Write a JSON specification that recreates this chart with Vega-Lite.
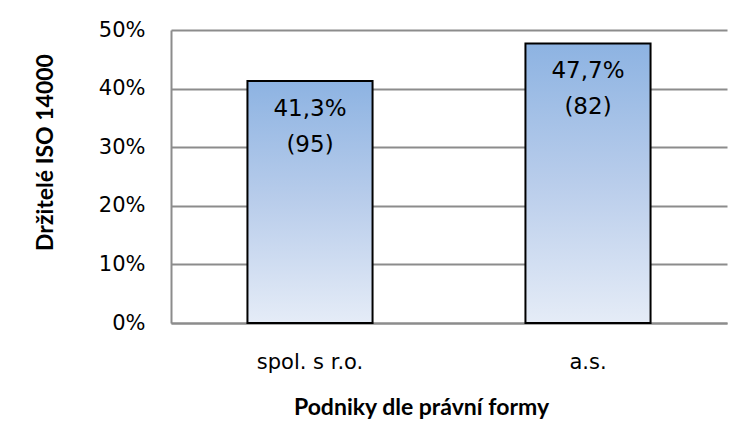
{
  "$schema": "https://vega.github.io/schema/vega-lite/v6.json",
  "autosize": "none",
  "width": 556,
  "height": 293,
  "padding": {"left": 171, "top": 30, "right": 11, "bottom": 109},
  "background": "white",
  "data": {
    "values": [
      {"forma": "spol. s r.o.", "podil": 0.413, "pocet": 95, "procento": "41,3%", "n": "(95)"},
      {"forma": "a.s.", "podil": 0.477, "pocet": 82, "procento": "47,7%", "n": "(82)"}
    ]
  },
  "encoding": {
    "x": {
      "field": "forma",
      "type": "nominal",
      "sort": null,
      "scale": {"paddingInner": 0.55, "paddingOuter": 0.275},
      "axis": {
        "title": "Podniky dle právní formy",
        "labelAngle": 0,
        "labelFont": "DejaVu Sans",
        "labelFontSize": 21,
        "labelColor": "#000000",
        "labelPadding": 28,
        "ticks": false,
        "domainColor": "#8c8c8c",
        "domainWidth": 2,
        "titleFont": "Lato",
        "titleFontWeight": "bold",
        "titleFontSize": 23,
        "titleColor": "#000000",
        "titleX": 250,
        "titleY": 84,
        "titleBaseline": "middle",
        "titleAnchor": null
      }
    },
    "y": {
      "field": "podil",
      "type": "quantitative",
      "scale": {"domain": [0, 0.5], "nice": false},
      "axis": {
        "title": "Držitelé ISO 14000",
        "format": ".0%",
        "values": [0, 0.1, 0.2, 0.3, 0.4, 0.5],
        "labelFont": "DejaVu Sans",
        "labelFontSize": 21,
        "labelColor": "#000000",
        "labelPadding": 26,
        "ticks": false,
        "domainColor": "#8c8c8c",
        "domainWidth": 2,
        "grid": true,
        "gridColor": "#8c8c8c",
        "gridWidth": 2,
        "titleFont": "Lato",
        "titleFontWeight": "bold",
        "titleFontSize": 23,
        "titleColor": "#000000",
        "titleX": -126,
        "titleY": 122,
        "titleAngle": 270,
        "titleAlign": "center",
        "titleBaseline": "middle",
        "titleAnchor": null
      }
    }
  },
  "layer": [
    {
      "mark": {
        "type": "bar",
        "stroke": "#000000",
        "strokeWidth": 2,
        "color": {
          "gradient": "linear",
          "x1": 0, "y1": 0, "x2": 0, "y2": 1,
          "stops": [
            {"offset": 0, "color": "#8DB3E2"},
            {"offset": 0.5, "color": "#B9CDEB"},
            {"offset": 1, "color": "#E5ECF7"}
          ]
        }
      }
    },
    {
      "mark": {"type": "text", "font": "DejaVu Sans", "fontSize": 23, "color": "#000000", "baseline": "middle", "dy": 28},
      "encoding": {"text": {"field": "procento"}}
    },
    {
      "mark": {"type": "text", "font": "DejaVu Sans", "fontSize": 23, "color": "#000000", "baseline": "middle", "dy": 64},
      "encoding": {"text": {"field": "n"}}
    }
  ],
  "config": {
    "view": {"stroke": null}
  }
}
